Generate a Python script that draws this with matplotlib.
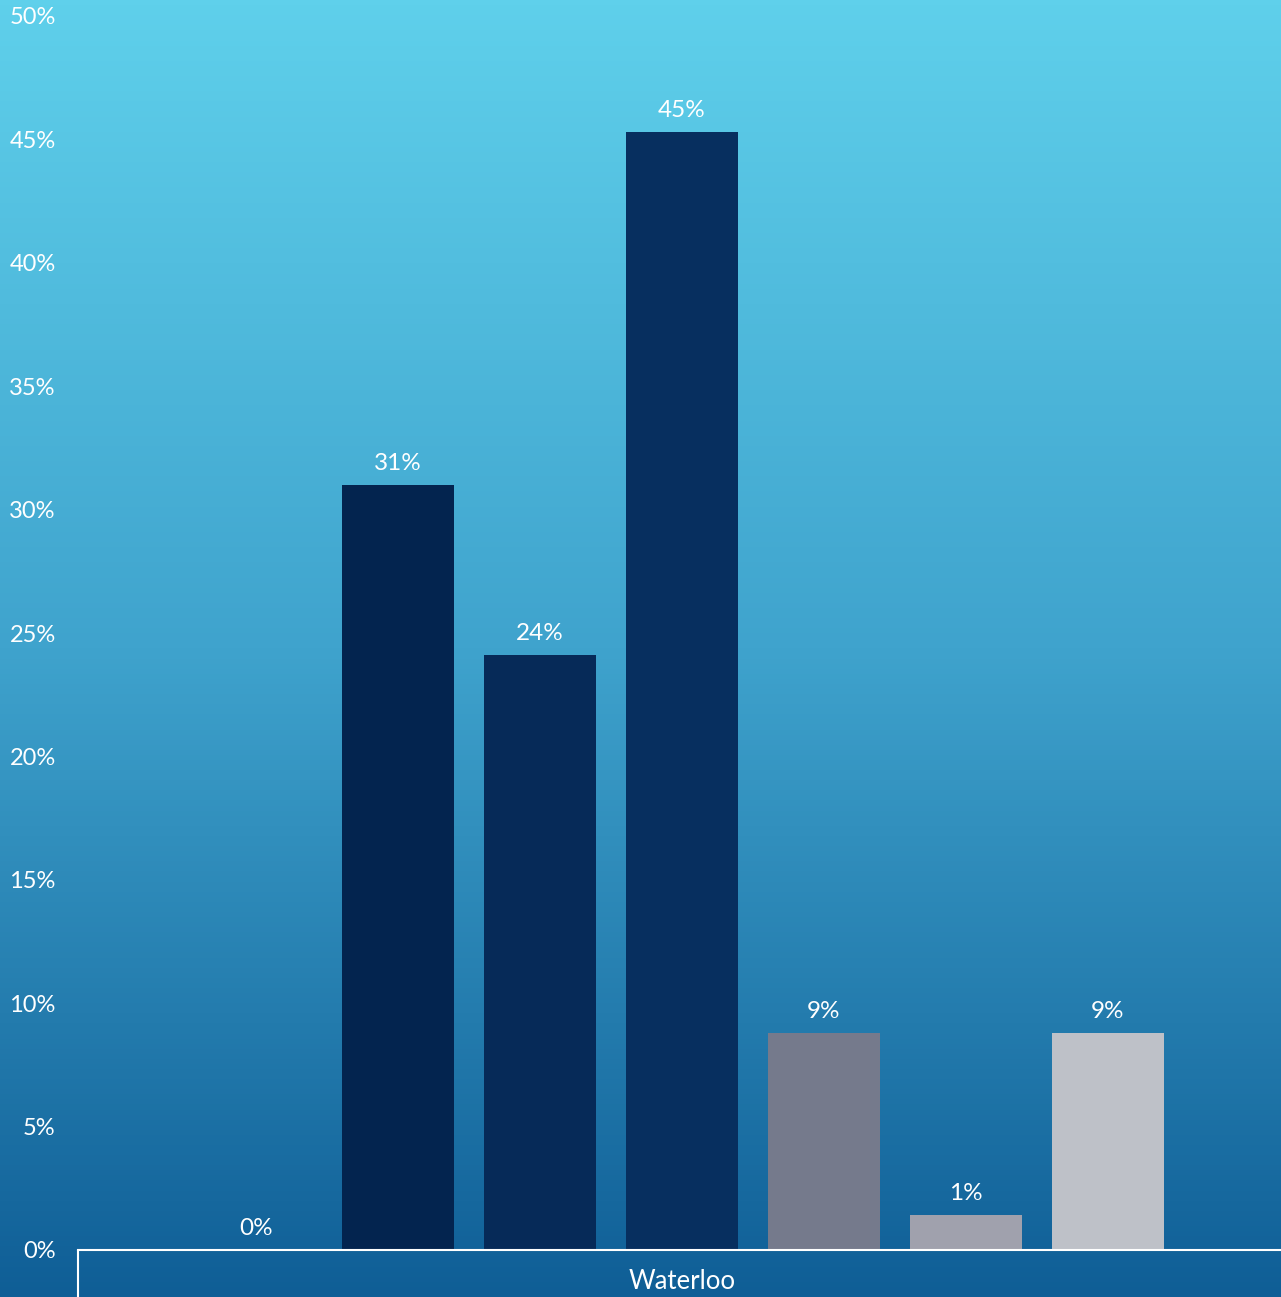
import matplotlib.pyplot as plt
import numpy as np
from matplotlib.colors import LinearSegmentedColormap

# data
category = "Waterloo"
values = [0.0, 31.0, 24.1, 45.3, 8.8, 1.4, 8.8]
labels = ["0%", "31%", "24%", "45%", "9%", "1%", "9%"]
colors = ["#03244F", "#03244F", "#062A58", "#072F5F", "#757A8C", "#A0A1AD", "#BEC1C8"]
yticks = [0, 5, 10, 15, 20, 25, 30, 35, 40, 45, 50]

plt.rcParams['font.family'] = ['Lato', 'DejaVu Sans']

fig = plt.figure(figsize=(12.81, 12.97), dpi=100)

# background gradient
bg = fig.add_axes([0, 0, 1, 1], zorder=-1)
grad = np.linspace(0, 1, 256).reshape(-1, 1)
cmap = LinearSegmentedColormap.from_list("bg", ["#5FD0EB", "#3FA3CD", "#0F5E96"])
bg.imshow(grad, aspect="auto", cmap=cmap, extent=[0, 1, 0, 1], origin="upper")
bg.axis("off")

W, H = 1281, 1297
ax = fig.add_axes([78 / W, (H - 1250) / H, 1 - 78 / W, (1250 - 16) / H])
ax.patch.set_alpha(0)

n = len(values)
step = 142 / 1208
width = 112 / 1208
x = (np.arange(n) - (n - 1) / 2) * step
bars = ax.bar(x, values, width=width, color=colors)

for xi, v, lab in zip(x, values, labels):
    ax.annotate(lab, (xi, v), xytext=(0, 8), textcoords="offset points",
                ha="center", va="bottom", color="white", fontsize=17.5)

ax.set_xlim(-0.5, 0.5 - 5 / 1208)
ax.set_ylim(0, 50)
ax.set_yticks(yticks)
ax.set_yticklabels([f"{t}%" for t in yticks])
ax.tick_params(axis="y", length=0, pad=16, labelcolor="white", labelsize=17)

ax.set_xticks([-0.5])
ax.set_xticklabels([""])
ax.tick_params(axis="x", which="major", length=34, width=1.5, color="white", direction="out")
ax.set_xticks([0], minor=True)
ax.set_xticklabels([category], minor=True)
ax.tick_params(axis="x", which="minor", length=0, pad=14, labelcolor="white", labelsize=18.5)

for s in ["left", "right", "top"]:
    ax.spines[s].set_visible(False)
ax.spines["bottom"].set_color("white")
ax.spines["bottom"].set_linewidth(1.5)

fig.savefig("out.png", dpi=100)
